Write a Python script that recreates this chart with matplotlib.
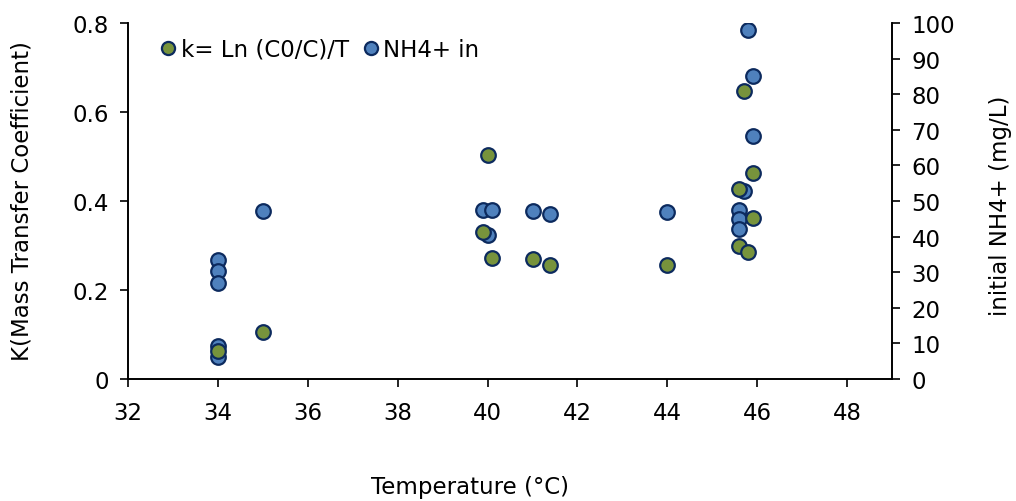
import matplotlib
matplotlib.use("Agg")
import matplotlib.pyplot as plt

plt.rcParams['font.family'] = ['DejaVu Sans']

# k = Ln(C0/C)/T  (left axis)
k_temp = [34, 35, 40.0, 39.9, 40.1, 41.0, 41.4, 44.0, 45.7, 45.9, 45.6, 45.9, 45.6, 45.8]
k_vals = [0.063, 0.105, 0.503, 0.330, 0.273, 0.270, 0.256, 0.256, 0.648, 0.463, 0.427, 0.362, 0.300, 0.285]

# initial NH4+ (right axis, mg/L)
nh4_temp = [34, 34, 34, 34, 34, 35, 39.9, 40.1, 40.0, 41.0, 41.4, 44.0, 45.8, 45.9, 45.9, 45.7, 45.6, 45.6, 45.6]
nh4_vals = [33.5, 30.3, 27.0, 9.3, 6.2, 47.2, 47.5, 47.5, 40.5, 47.3, 46.5, 46.8, 98.0, 85.0, 68.2, 52.8, 47.6, 45.0, 42.1]

x_ticks = [32, 34, 36, 38, 40, 42, 44, 46, 48]
k_ticks = [0, 0.2, 0.4, 0.6, 0.8]
k_tick_labels = ['0', '0.2', '0.4', '0.6', '0.8']
nh4_ticks = list(range(0, 101, 10))

green = '#77933C'
blue = '#4F81BD'
edge = '#0C2A5E'
fs = 16.5

fig = plt.figure(figsize=(10.16, 5.02), dpi=100)
ax = fig.add_axes([0.126, 0.243, 0.752, 0.709])
ax2 = ax.twinx()

ax2.plot(nh4_temp, nh4_vals, linestyle='none', marker='o', markersize=10.5,
         markerfacecolor=blue, markeredgecolor=edge, markeredgewidth=1.6, label='NH4+ in')
ax.plot(k_temp, k_vals, linestyle='none', marker='o', markersize=10.5,
        markerfacecolor=green, markeredgecolor=edge, markeredgewidth=1.6, label='k= Ln (C0/C)/T')

ax.set_zorder(ax2.get_zorder() + 1)
ax.patch.set_visible(False)

ax.set_xlim(32, 49)
ax.set_ylim(0, 0.8)
ax2.set_ylim(0, 100)
ax.set_xticks(x_ticks)
ax.set_yticks(k_ticks)
ax.set_yticklabels(k_tick_labels)
ax2.set_yticks(nh4_ticks)

for a in (ax, ax2):
    a.spines['top'].set_visible(False)
    for s in a.spines.values():
        s.set_color('black')
        s.set_linewidth(1.2)
    a.tick_params(direction='out', length=6, width=1.2, labelsize=fs, colors='black')
ax.tick_params(axis='x', pad=10)
ax.tick_params(axis='y', pad=8)
ax2.tick_params(axis='y', pad=8)

fig.text(0.4626, 0.028, 'Temperature (\u00b0C)', ha='center', va='center', fontsize=fs)
fig.text(0.022, 0.6, 'K(Mass Transfer Coefficient)', ha='center', va='center',
         rotation=90, fontsize=fs)
fig.text(0.985, 0.59, 'initial NH4+ (mg/L)', ha='center', va='center',
         rotation=90, fontsize=fs)

h1, l1 = ax.get_legend_handles_labels()
h2, l2 = ax2.get_legend_handles_labels()
fig.legend(h1 + h2, l1 + l2, loc='center left', bbox_to_anchor=(0.135, 0.9),
           ncol=2, frameon=False, fontsize=fs, handletextpad=0.1,
           columnspacing=0.5, handlelength=0.9, markerscale=0.9)

fig.savefig('out.png', dpi=100)
